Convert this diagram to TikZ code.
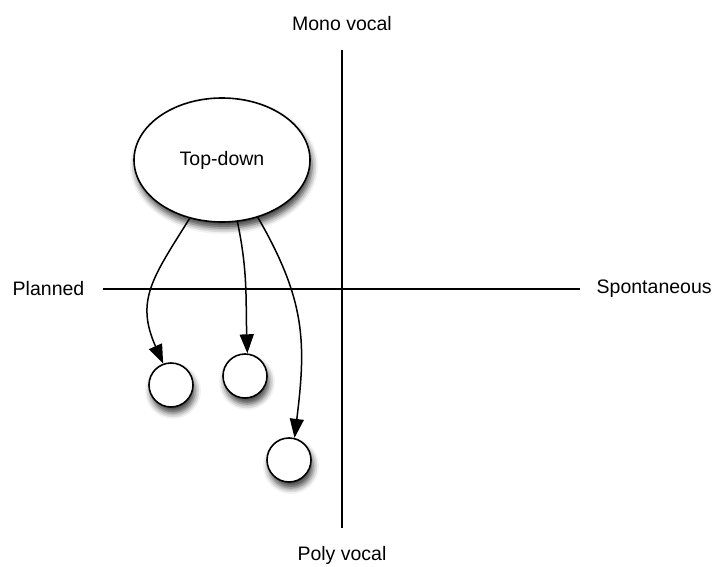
\documentclass[tikz,border=0pt]{standalone}
\usepackage{fontspec}
\setmainfont{Liberation Sans}
\usetikzlibrary{arrows.meta,shapes.geometric,shadows.blur}

\begin{document}
\begin{tikzpicture}[x=1pt,y=1pt,
		every node/.style={font=\fontsize{19.5}{23}\selectfont},
		bubble/.style={draw,fill=white,line width=1.6pt,inner sep=0pt,
			blur shadow={shadow xshift=2pt,shadow yshift=-6pt,shadow blur radius=6pt,shadow opacity=75}},
		axislabel/.style={inner sep=0pt},
		link/.style={line width=1.5pt,-{Triangle[length=19pt,width=14pt]}}]
					\useasboundingbox (0,0) rectangle (712,566);
					\draw[line width=1.4pt] (342,516) node[above=15pt] {Mono vocal} -- (342,38) node[below=14pt] {Poly vocal};
					\draw[line width=1.4pt] (103,277) node[axislabel,left=18pt] {Planned} -- (580,277) node[axislabel,right=16pt] {Spontaneous};

					\node[bubble,ellipse,minimum width=176pt,minimum height=124pt] (topdown) at (222,406) {Top-down};

					\node[bubble,circle,minimum size=44pt] (left) at (171,181) {};
					\node[bubble,circle,minimum size=44pt] (mid) at (245,190) {};
					\node[bubble,circle,minimum size=44pt] (low) at (289,106) {};

					\draw[link] (topdown.-119) to[out=-122,in=114,looseness=1.2] (left.110);
					\draw[link] (topdown.-76) to[out=-78,in=92] (mid.84);
					\draw[link] (topdown.-58) to[out=-60,in=83,looseness=1.1] (low.76);
				\end{tikzpicture}
\end{document}
